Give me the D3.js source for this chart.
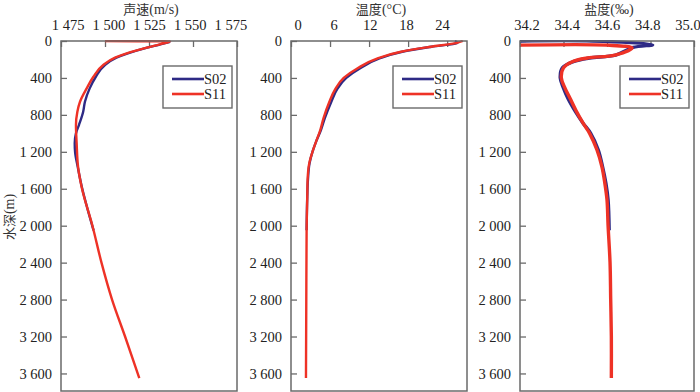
<!DOCTYPE html>
<html>
<head>
<meta charset="utf-8">
<script src="https://cdn.jsdelivr.net/npm/d3@7"></script>
<style>
  body { margin: 0; background: #fff; }
</style>
</head>
<body>
<svg id="chart" width="700" height="392"></svg>
<script>
// depth ticks shared by all panels
const depthTicks = [0, 400, 800, 1200, 1600, 2000, 2400, 2800, 3200, 3600];
const seriesNames = ["S02", "S11"];

// sound speed (m/s)
const soundTicks = [1475, 1500, 1525, 1550, 1575];
const soundDepthS02 = [8, 36, 72, 134, 181, 260, 387, 513, 658, 766, 910, 1000, 1108, 1200, 1362, 1578, 1800, 2050];
const soundS02 = [1537, 1531.5, 1524, 1513, 1506.5, 1500, 1494.8, 1491.3, 1488.6, 1487.6, 1485.2, 1483.5, 1482.8, 1483, 1484.5, 1486.8, 1489.8, 1493.5];
const soundDepthS11 = [0, 4, 36, 72, 134, 181, 260, 387, 513, 658, 766, 910, 1108, 1362, 1578, 2011, 2400, 2800, 3200, 3650];
const soundS11 = [1500, 1537, 1531.2, 1523.7, 1512.3, 1505.7, 1499, 1493.4, 1489.6, 1485.8, 1484.3, 1483.5, 1483.9, 1484.7, 1486.7, 1493, 1498, 1504, 1511.4, 1519.5];

// temperature (°C)
const tempTicks = [0, 6, 12, 18, 24];
const tempDepthS02 = [0, 20, 62, 116, 188, 292, 400, 520, 657, 835, 964, 1100, 1200, 1325, 1506, 1687, 2050];
const tempS02 = [25.2, 25.6, 21.6, 17.1, 13.6, 10.7, 8.5, 7.1, 6.2, 5.2, 4.6, 3.8, 3.3, 2.85, 2.6, 2.5, 2.4];
const tempDepthS11 = [0, 20, 62, 116, 188, 292, 400, 520, 657, 835, 964, 1100, 1200, 1325, 1506, 1687, 2050, 2800, 3650];
const tempS11 = [26.4, 25.5, 21.5, 16.9, 13.3, 10.3, 8.1, 6.8, 5.9, 5.0, 4.5, 3.8, 3.3, 2.8, 2.55, 2.5, 2.4, 2.35, 2.3];

// salinity (‰)
const salTicks = [34.2, 34.4, 34.6, 34.8, 35.0];
const salDepthS02 = [0, 0, 40, 70, 152, 184, 224, 290, 400, 510, 620, 765, 890, 1000, 1180, 1365, 1540, 1720, 2050];
const salS02 = [34.2, 34.535, 34.81, 34.72, 34.64, 34.52, 34.445, 34.395, 34.385, 34.40, 34.42, 34.455, 34.49, 34.525, 34.56, 34.58, 34.595, 34.605, 34.61];
const salDepthS11 = [45, 45, 76, 152, 184, 224, 290, 400, 510, 620, 765, 890, 1000, 1180, 1365, 1540, 1720, 2000, 2400, 2800, 3200, 3650];
const salS11 = [34.2, 34.6, 34.715, 34.637, 34.51, 34.44, 34.40, 34.39, 34.407, 34.43, 34.46, 34.49, 34.52, 34.554, 34.577, 34.59, 34.60, 34.605, 34.614, 34.617, 34.62, 34.62];

const colors = { S02: "#2e2a85", S11: "#ee3226" };
const frameColor = "#6a6a6a";
const serif = "'Liberation Serif', 'DejaVu Serif', 'Times New Roman', serif";
const fmt = v => d3.format(",")(v).replace(/,/g, " ");

const svg = d3.select("#chart").style("font-family", serif);
const plotTop = 41, plotBottom = 391;
const y = d3.scaleLinear().domain([0, 3790]).range([plotTop, plotBottom]);

const panels = [
  { title: "声速", unit: "(m/s)", left: 61, right: 237, domain: [1475, 1575], ticks: soundTicks, tf: fmt, width: 2.4,
    curve: d3.curveMonotoneY, s02: [soundS02, soundDepthS02], s11: [soundS11, soundDepthS11] },
  { title: "温度", unit: "(°C)", left: 291, right: 467, domain: [0, 27.05], ticks: tempTicks, tf: d => d, width: 2.4,
    curve: d3.curveMonotoneY, s02: [tempS02, tempDepthS02], s11: [tempS11, tempDepthS11] },
  { title: "盐度", unit: "(‰)", left: 520, right: 694, domain: [34.2, 35.0], ticks: salTicks, tf: d3.format(".1f"), width: 3.4,
    curve: d3.curveCatmullRom.alpha(0.5), s02: [salS02, salDepthS02], s11: [salS11, salDepthS11] }
];

panels.forEach((p, i) => {
  const x = d3.scaleLinear().domain(p.domain).range([p.left, p.right]);
  const g = svg.append("g");
  const clipId = "clip" + i;
  svg.append("clipPath").attr("id", clipId).append("rect")
    .attr("x", p.left).attr("y", plotTop - 1).attr("width", p.right - p.left).attr("height", plotBottom - plotTop + 1);

  // x axis on top, ticks pointing inward
  const xAxis = d3.axisTop(x).tickValues(p.ticks).tickSize(-6).tickPadding(11).tickFormat(p.tf);
  const xg = g.append("g").attr("transform", `translate(0,${plotTop})`).call(xAxis).attr("font-family", null);
  xg.select(".domain").remove();
  xg.selectAll("line").attr("stroke", frameColor).attr("stroke-width", 1.3);
  // labels sit a little closer together than the ticks, as in the original figure
  const mid = (p.left + p.right) / 2;
  xg.selectAll("text").style("font-size", "14.5px").attr("fill", "#222").style("font-family", serif)
    .attr("dx", d => -(x(d) - mid) * 0.075);

  // y axis, ticks inward
  const yAxis = d3.axisLeft(y).tickValues(depthTicks).tickSize(-6).tickPadding(9).tickFormat(fmt);
  const yg = g.append("g").attr("transform", `translate(${p.left},0)`).call(yAxis).attr("font-family", null);
  yg.select(".domain").remove();
  yg.selectAll("line").attr("stroke", frameColor).attr("stroke-width", 1.3);
  yg.selectAll("text").style("font-size", "14.5px").attr("fill", "#222").style("font-family", serif);

  // profiles
  const line = d3.line().curve(p.curve).x(d => x(d[0])).y(d => y(d[1]));
  const plot = g.append("g").attr("clip-path", `url(#${clipId})`);
  [["S02", p.s02], ["S11", p.s11]].forEach(([name, [vals, depths]]) => {
    plot.append("path")
      .datum(vals.map((v, k) => [v, depths[k]]))
      .attr("d", line)
      .attr("fill", "none")
      .attr("stroke", colors[name])
      .attr("stroke-width", p.width)
      .attr("stroke-linejoin", "round");
  });

  // frame
  g.append("rect").attr("x", p.left).attr("y", plotTop).attr("width", p.right - p.left).attr("height", plotBottom - plotTop)
    .attr("fill", "none").attr("stroke", frameColor).attr("stroke-width", 1.5);

  // title: CJK part plus unit in serif
  const t = g.append("text").attr("x", (p.left + p.right) / 2 + 2).attr("y", 14).attr("text-anchor", "middle")
    .attr("fill", "#333").style("font-size", "14px");
  t.append("tspan").style("font-family", "'Noto Sans CJK SC', sans-serif").style("font-size", "13px").text(p.title);
  t.append("tspan").style("font-family", serif).text(p.unit);

  // legend
  const lx = p.right - 74, ly = 66;
  const lg = g.append("g").attr("transform", `translate(${lx},${ly})`);
  lg.append("rect").attr("width", 69).attr("height", 42).attr("fill", "#fff")
    .attr("stroke", frameColor).attr("stroke-width", 1.4);
  seriesNames.forEach((name, k) => {
    const yy = 13 + k * 15;
    lg.append("line").attr("x1", 9).attr("x2", 41).attr("y1", yy).attr("y2", yy)
      .attr("stroke", colors[name]).attr("stroke-width", 2.6);
    lg.append("text").attr("x", 41).attr("y", yy + 5).style("font-size", "14.5px")
      .style("font-family", serif).attr("fill", "#222").text(name);
  });
});

// y-axis title
const yt = svg.append("text").attr("transform", "translate(14,217) rotate(-90)").attr("text-anchor", "middle")
  .attr("fill", "#333").style("font-size", "14px");
yt.append("tspan").style("font-family", "'Noto Sans CJK SC', sans-serif").style("font-size", "13px").text("水深");
yt.append("tspan").style("font-family", serif).text("(m)");
</script>
</body>
</html>
